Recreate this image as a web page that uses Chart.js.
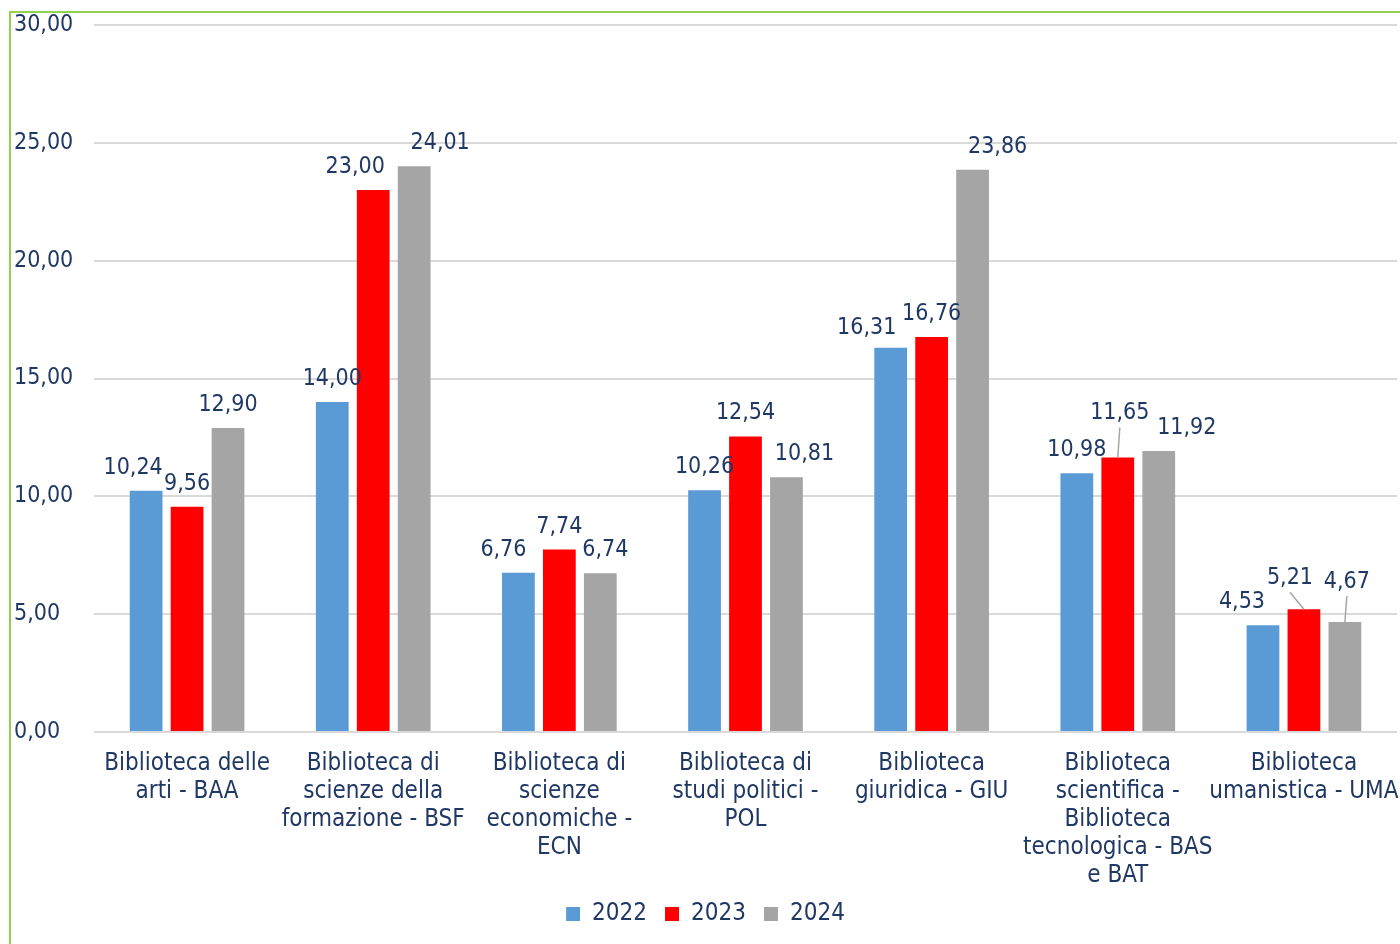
<!DOCTYPE html>
<html>
<head>
<meta charset="utf-8">
<script src="https://cdn.jsdelivr.net/npm/chart.js@4"></script>
<style>
  html, body { margin: 0; padding: 0; background: #fff; }
  #wrap { position: absolute; left: 0; top: 0; width: 1400px; height: 944px; }
  #frame { position: absolute; left: 9px; top: 11px; width: 1400px; height: 944px;
           border-left: 2px solid #92D050; border-top: 2px solid #92D050; }
</style>
</head>
<body>
<div id="frame"></div>
<div id="wrap"><canvas id="graph"></canvas></div>
<script>
const categories = [
  ["Biblioteca delle", "arti - BAA"],
  ["Biblioteca di", "scienze della", "formazione - BSF"],
  ["Biblioteca di", "scienze", "economiche -", "ECN"],
  ["Biblioteca di", "studi politici -", "POL"],
  ["Biblioteca", "giuridica - GIU"],
  ["Biblioteca", "scientifica -", "Biblioteca", "tecnologica - BAS", "e BAT"],
  ["Biblioteca", "umanistica - UMA"]
];
const years = ["2022", "2023", "2024"];
const values2022 = [10.24, 14.00, 6.76, 10.26, 16.31, 10.98, 4.53];
const values2023 = [9.56, 23.00, 7.74, 12.54, 16.76, 11.65, 5.21];
const values2024 = [12.90, 24.01, 6.74, 10.81, 23.86, 11.92, 4.67];

const navy = "#1F3864";
const fontName = "'DejaVu Sans Condensed', 'DejaVu Sans', sans-serif";

// label nudges (dx, dy, leader line) per dataset / category, Excel-like placement
const nudges = [
  [[-13,0],[0,0],[-15,0],[0,0],[-24,3],[0,0],[-21,0]],
  [[0,0],[-18,0],[0,0],[0,0],[0,0],[2,-21,true],[-14,-8,true]],
  [[0,0],[26,0],[5,0],[18,0],[25,0],[28,0],[2,-17,true]]
];

const fmt = v => v.toFixed(2).replace(".", ",");

const labelPlugin = {
  id: "barLabels",
  afterDatasetsDraw(chart) {
    const ctx = chart.ctx;
    ctx.save();
    ctx.font = "23px " + fontName;
    ctx.fillStyle = navy;
    ctx.textAlign = "center";
    ctx.textBaseline = "middle";
    chart.data.datasets.forEach((ds, i) => {
      chart.getDatasetMeta(i).data.forEach((bar, j) => {
        const n = nudges[i][j];
        const x = bar.x + n[0];
        const y = bar.y - 23 + n[1];
        if (n[2]) {
          ctx.strokeStyle = "#A6A6A6";
          ctx.lineWidth = 1.5;
          ctx.beginPath();
          ctx.moveTo(bar.x, bar.y);
          ctx.lineTo(x, y + 14);
          ctx.stroke();
        }
        ctx.fillText(fmt(ds.data[j]), x, y);
      });
    });
    ctx.restore();
  }
};

const graph = document.getElementById("graph").getContext("2d");

let myChart = new Chart(graph, {
  type: "bar",
  data: {
    labels: categories,
    datasets: [
      { label: years[0], data: values2022, backgroundColor: "#5B9BD5" },
      { label: years[1], data: values2023, backgroundColor: "#FF0000" },
      { label: years[2], data: values2024, backgroundColor: "#A5A5A5" }
    ]
  },
  options: {
    responsive: true,
    maintainAspectRatio: false,
    animation: false,
    categoryPercentage: 0.66,
    barPercentage: 0.8,
    layout: {
      padding: { left: 14, right: 3, top: 25, bottom: 8 }
    },
    plugins: {
      legend: {
        display: true,
        position: "bottom",
        labels: {
          font: { family: fontName, size: 24 },
          color: navy,
          boxWidth: 14,
          boxHeight: 14,
          padding: 18
        }
      },
      tooltip: { enabled: false }
    },
    scales: {
      x: {
        grid: { display: false, drawTicks: false },
        border: { display: false },
        afterFit(scale) {
          scale.height = 152;
          scale.paddingLeft = 0;
          scale.paddingRight = 0;
        },
        ticks: {
          color: navy,
          font: { family: fontName, size: 24, lineHeight: 1.16 },
          maxRotation: 0,
          autoSkip: false,
          padding: 18
        }
      },
      y: {
        min: 0,
        max: 30,
        grid: { color: "#D9D9D9", lineWidth: 2, drawTicks: false },
        border: { display: false },
        afterFit(scale) { scale.width = 80; },
        ticks: {
          stepSize: 5,
          color: navy,
          crossAlign: "far",
          font: { family: fontName, size: 23 },
          callback: v => fmt(v)
        }
      }
    }
  },
  plugins: [labelPlugin]
});
</script>
</body>
</html>
